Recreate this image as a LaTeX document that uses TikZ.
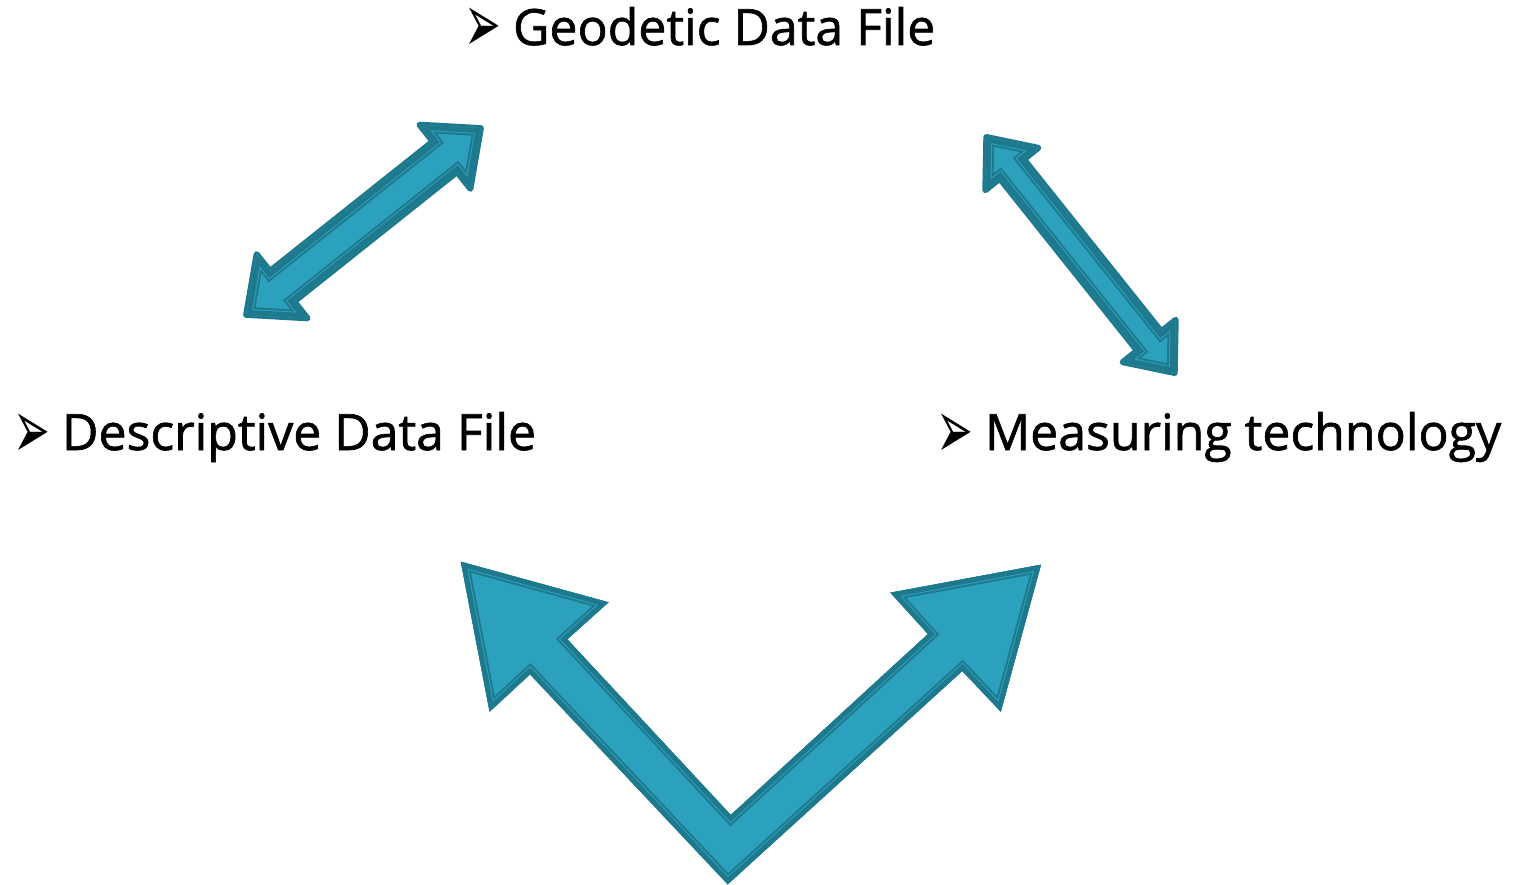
\documentclass[tikz,border=0pt]{standalone}
\usepackage{fontspec}
\setmainfont{Open Sans}[FakeBold=1.3]
\newfontfamily\dingfont{DejaVu Sans}
\usepackage{tikz}

\definecolor{arrowblue}{RGB}{44,161,190}
\definecolor{arrowdark}{RGB}{30,121,141}

% bullet in front of each label
\newcommand{\labelbullet}{\raisebox{-8pt}{\dingfont\fontsize{44}{44}\selectfont\scalebox{1}[1.9]{➢}}\hspace{12pt}}

% inner border of a block arrow, clipped to its outline
\newcommand{\arrowlayers}[1]{%
  \begin{scope}
    \clip #1;
    \fill[arrowblue] #1;
    \draw[arrowdark, line width=16pt] #1;
    \draw[arrowblue, line width=12pt] #1;
    \draw[arrowdark, line width=10pt] #1;
  \end{scope}}

\begin{document}
\begin{tikzpicture}[x=1pt,y=-1pt,
  labelstyle/.style={anchor=base west,inner sep=0,font=\fontsize{50}{60}\selectfont},
  roundedge/.style={draw=arrowdark,line width=6pt,line join=round}]
 \useasboundingbox (0,0) rectangle (1514,885);

 % labels
 \node [labelstyle] (geodetic) at (464,45) {\labelbullet Geodetic Data File};
 \node [labelstyle] (descriptive) at (13,450) {\labelbullet Descriptive Data File};
 \node [labelstyle] (measuring) at (936,450) {\labelbullet Measuring technology};

 % double arrows
 \begin{scope}[shift={(363.5,221.5)},rotate=38.5]
   \draw[roundedge] (-150,0) -- (-104,41) -- (-104,19.5) -- (104,19.5) -- (104,41) -- (150,0)
        -- (104,-41) -- (104,-19.5) -- (-104,-19.5) -- (-104,-41) -- cycle;
   \arrowlayers{(-150,0) -- (-104,41) -- (-104,19.5) -- (104,19.5) -- (104,41) -- (150,0)
        -- (104,-41) -- (104,-19.5) -- (-104,-19.5) -- (-104,-41) -- cycle}
 \end{scope}
 \begin{scope}[shift={(1080.5,255)},rotate=-51.4]
   \draw[roundedge] (-151,0) -- (-110,34) -- (-110,15.5) -- (110,15.5) -- (110,34) -- (151,0)
        -- (110,-34) -- (110,-15.5) -- (-110,-15.5) -- (-110,-34) -- cycle;
   \arrowlayers{(-151,0) -- (-110,34) -- (-110,15.5) -- (110,15.5) -- (110,34) -- (151,0)
        -- (110,-34) -- (110,-15.5) -- (-110,-15.5) -- (-110,-34) -- cycle}
 \end{scope}

 % bent arrow at the bottom
 \arrowlayers{(460.8,561.7) -- (608.5,602.3) -- (567.3,639.3) -- (730.8,815) -- (928,634)
   -- (890.4,592.7) -- (1041,564.7) -- (1000.8,711.7) -- (962.3,671) -- (727.7,884.3)
   -- (530,674.3) -- (489.6,711.7) -- cycle}
\end{tikzpicture}
\end{document}
